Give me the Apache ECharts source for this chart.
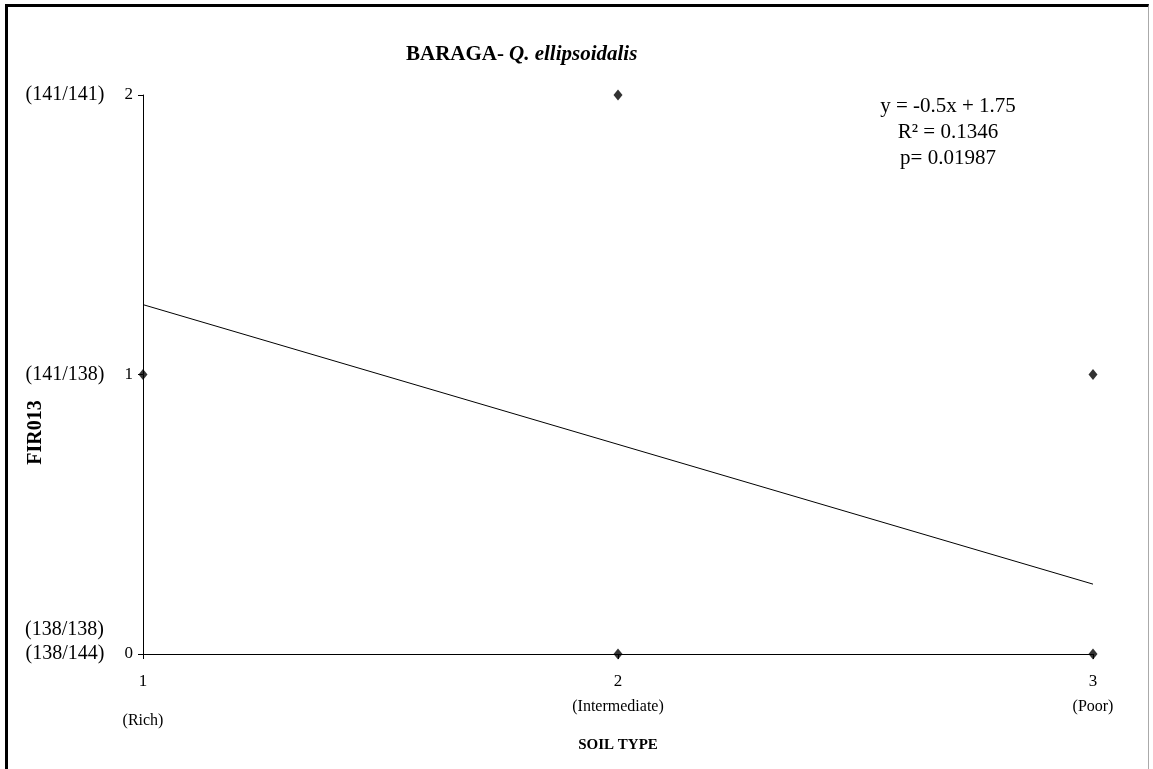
<!DOCTYPE html>
<html>
<head>
<meta charset="utf-8">
<script src="https://cdn.jsdelivr.net/npm/echarts@6/dist/echarts.min.js"></script>
<style>
  html, body { margin: 0; padding: 0; background: #fff; }
  #chart { width: 1153px; height: 769px; position: absolute; left: 0; top: 0; }
  #frame { position: absolute; left: 5px; top: 4px; width: 1144px; height: 765px;
           border-top: 3px solid #000; border-left: 3px solid #000; border-right: 1px solid #aaa;
           pointer-events: none; box-sizing: border-box; }
</style>
</head>
<body>
<div id="chart"></div>
<div id="frame"></div>
<script>
// ---- data ----
const pointX = [1, 2, 2, 3, 3];
const pointY = [1, 2, 0, 1, 0];
const trendX = [1, 3];
const trendY = [1.25, 0.25];
const xTickNums = ['1', '2', '3'];
const xTickNames = ['(Rich)', '(Intermediate)', '(Poor)'];
const yTickValues = [0, 1, 2];
const yTickCodes = [['(138/138)', '(138/144)'], ['(141/138)'], ['(141/141)']];
const titleMain = 'BARAGA-';
const titleSpecies = 'Q. ellipsoidalis';
const equationLines = ['y = -0.5x + 1.75', 'R\u00B2 = 0.1346', 'p= 0.01987'];
const xAxisName = 'SOIL TYPE';
const yAxisName = 'FIR013';

const FONT = '"Liberation Serif", "Times New Roman", serif';
const chart = echarts.init(document.getElementById('chart'));

const scatterData = pointX.map((x, i) => [x, pointY[i]]);
const trendData = trendX.map((x, i) => [x, trendY[i]]);

const option = {
  animation: false,
  backgroundColor: '#fff',
  title: [
    {
      text: '{b|' + titleMain + '} {i|' + titleSpecies + '}',
      left: 401, top: 39,
      textStyle: {
        rich: {
          b: { fontFamily: FONT, fontWeight: 'bold', fontSize: 21, color: '#000' },
          i: { fontFamily: FONT, fontWeight: 'bold', fontStyle: 'italic', fontSize: 21, color: '#000' }
        }
      }
    },
    {
      text: equationLines.join('\n'),
      left: 943, top: 88, textAlign: 'center',
      textStyle: { fontFamily: FONT, fontWeight: 'normal', fontSize: 21, lineHeight: 26, color: '#000', align: 'center' }
    }
  ],
  grid: { left: 143, right: 60, top: 95, bottom: 115, containLabel: false, outerBoundsMode: 'none' },
  xAxis: {
    type: 'value', min: 1, max: 3, interval: 1,
    name: xAxisName, nameLocation: 'middle', nameGap: 84, nameMoveOverlap: false,
    nameTextStyle: { fontFamily: FONT, fontWeight: 'bold', fontSize: 15, color: '#000' },
    axisLine: { show: true, onZero: false, lineStyle: { color: '#000', width: 1 } },
    axisTick: { show: true, inside: false, length: 5, lineStyle: { color: '#000' } },
    splitLine: { show: false },
    axisLabel: {
      margin: 18,
      formatter: function (v) {
        const i = Math.round(v) - 1;
        const style = i === 0 ? 'r' : 'm';
        return '{n|' + xTickNums[i] + '}\n{' + style + '|' + xTickNames[i] + '}';
      },
      rich: {
        n: { fontFamily: FONT, fontSize: 17, lineHeight: 20, color: '#000' },
        m: { fontFamily: FONT, fontSize: 16, lineHeight: 30, color: '#000' },
        r: { fontFamily: FONT, fontSize: 16, lineHeight: 58, color: '#000' }
      }
    }
  },
  yAxis: {
    type: 'value', min: 0, max: 2, interval: 1,
    name: yAxisName, nameLocation: 'middle', nameGap: 97, nameRotate: 90, nameMoveOverlap: false,
    nameTextStyle: { fontFamily: FONT, fontWeight: 'bold', fontSize: 20, color: '#000', padding: [0, 116, 0, 0] },
    axisLine: { show: true, onZero: false, lineStyle: { color: '#000', width: 1 } },
    axisTick: { show: true, inside: false, length: 5, lineStyle: { color: '#000' } },
    splitLine: { show: false },
    axisLabel: {
      margin: 10,
      formatter: function (v) {
        const i = yTickValues.indexOf(Math.round(v));
        const codes = yTickCodes[i];
        if (codes.length > 1) {
          return '{c|' + codes[0] + '}\n{a|' + codes[1] + '}{n|' + v + '}\n{e| }';
        }
        return '{a|' + codes[0] + '}{n|' + v + '}';
      },
      rich: {
        a: { fontFamily: FONT, fontSize: 20, lineHeight: 24, color: '#000' },
        c: { fontFamily: FONT, fontSize: 20, lineHeight: 24, color: '#000', padding: [0, 29, 0, 0] },
        n: { fontFamily: FONT, fontSize: 17, lineHeight: 24, color: '#000', padding: [0, 0, 0, 20] },
        e: { fontSize: 18, lineHeight: 24 }
      }
    }
  },
  series: [
    {
      type: 'line', data: trendData, symbol: 'none',
      lineStyle: { color: '#000', width: 1 }, z: 2, silent: true
    },
    {
      type: 'scatter', data: scatterData, symbol: 'diamond', symbolSize: [9, 11],
      itemStyle: { color: '#000' }, z: 3
    }
  ]
};
chart.setOption(option);
</script>
</body>
</html>
